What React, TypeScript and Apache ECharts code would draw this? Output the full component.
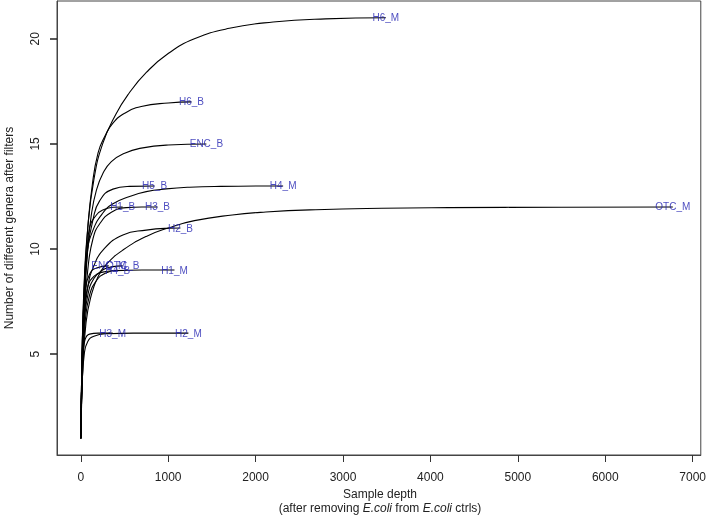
import React, { useEffect, useRef } from "react";
import * as echarts from "echarts";

// Rarefaction curves: [sample depth, number of genera]
const H6_M = [[1,1],[15,5],[40,8.5],[80,11],[150,13.3],[250,15],[400,16.4],[550,17.4],[750,18.4],[1000,19.3],[1300,20.0],[1700,20.5],[2200,20.8],[2800,20.95],[3490,21]];
const H6_B = [[1,1],[15,5],[40,8.3],[80,11],[130,13],[197,14.56],[274,15.35],[368,15.99],[502,16.46],[692,16.78],[1000,16.95],[1266,17]];
const ENC_B = [[1,1],[15,4.5],[40,7.5],[80,10],[120,11.6],[179,12.8],[254,13.6],[350,14.16],[502,14.56],[692,14.8],[1000,14.95],[1437,15]];
const H5_B = [[1,1],[15,4.5],[40,7.5],[80,10],[140,11.4],[217,12.3],[368,12.85],[559,12.98],[844,13]];
const H4_M = [[1,1],[15,4.5],[40,8],[70,9.8],[140,10.9],[250,11.7],[368,12.15],[559,12.5],[749,12.73],[977,12.86],[1243,12.94],[1600,12.98],[2315,13]];
const H1_B = [[1,1],[15,4.5],[40,7.5],[70,9.8],[103,11.06],[179,11.62],[254,11.86],[368,11.99],[479,12]];
const H3_B = [[1,1],[15,4],[40,6.8],[80,9],[140,10.5],[217,11.2],[350,11.75],[521,11.97],[700,12],[878,12]];
const OTC_M = [[1,1],[20,4],[60,6.5],[120,7.8],[200,8.7],[300,9.3],[482,9.95],[749,10.6],[1000,11.0],[1300,11.35],[1733,11.62],[2117,11.76],[2688,11.87],[3444,11.94],[4208,11.97],[5500,11.99],[6773,12]];
const H2_B = [[1,1],[15,4],[40,6.5],[80,8.2],[150,9.2],[254,9.95],[482,10.67],[749,10.9],[1015,10.99],[1140,11]];
const ENC_M = [[1,1],[10,4],[25,6.5],[50,8],[100,8.8],[180,9.1],[320,9.2]];
const OTC_B = [[1,1],[15,4],[40,6.5],[80,7.8],[150,8.6],[250,9.0],[350,9.15],[480,9.2]];
const H4_B = [[1,1],[20,4],[50,6.5],[100,7.8],[180,8.5],[280,8.85],[422,9]];
const H1_M = [[1,1],[15,4.5],[40,7],[80,8.2],[150,8.7],[250,8.9],[400,8.97],[700,9],[1072,9]];
const H3_M = [[1,1],[10,3.5],[25,5],[50,5.7],[100,5.95],[200,6],[365,6]];
const H2_M = [[1,1],[15,3.5],[40,5],[80,5.6],[150,5.85],[300,5.97],[600,6],[1231,6]];

const sampleNames = ["H6_M","H6_B","ENC_B","H5_B","H4_M","H1_B","H3_B","OTC_M","H2_B","ENC_M","OTC_B","H4_B","H1_M","H3_M","H2_M"];
const curves = [H6_M,H6_B,ENC_B,H5_B,H4_M,H1_B,H3_B,OTC_M,H2_B,ENC_M,OTC_B,H4_B,H1_M,H3_M,H2_M];

const xTicks = [0,1000,2000,3000,4000,5000,6000,7000];
const yTicks = [5,10,15,20];

const FONT = "'Liberation Sans', Arial, Helvetica, sans-serif";

export default function App() {
  const ref = useRef<HTMLDivElement>(null);
  useEffect(() => {
    if (!ref.current) return;
    const chart = echarts.init(ref.current, undefined, { renderer: "svg" });
    const lineSeries = curves.map((c, i) => ({
      type: "line",
      name: sampleNames[i],
      data: c,
      showSymbol: false,
      smooth: 0.5,
      lineStyle: { color: "#000", width: 1.1 },
      silent: true,
      z: 2,
    }));
    const labelSeries = {
      type: "scatter",
      symbolSize: 0,
      silent: true,
      z: 5,
      data: curves.map((c, i) => ({ name: sampleNames[i], value: c[c.length - 1] })),
      label: {
        show: true,
        position: "inside",
        formatter: "{b}",
        color: "#2020b0",
        fontSize: 10,
        fontFamily: FONT,
      },
    };
    chart.setOption({
      animation: false,
      grid: {
        left: 57, right: 7, top: 1, bottom: 61,
        show: true, borderColor: "#444", borderWidth: 1,
      },
      xAxis: {
        type: "value",
        min: -272, max: 7093,
        axisLine: { show: true, onZero: false, lineStyle: { color: "#444" } },
        splitLine: { show: false },
        axisTick: { show: true, length: 7, customValues: xTicks, lineStyle: { color: "#333" } },
        axisLabel: { show: true, customValues: xTicks, margin: 16, color: "#222", fontSize: 12, fontFamily: FONT, formatter: (v: number) => String(v) },
      },
      yAxis: {
        type: "value",
        min: 0.2, max: 21.8,
        axisLine: { show: true, onZero: false, lineStyle: { color: "#444" } },
        splitLine: { show: false },
        axisTick: { show: true, length: 7, customValues: yTicks, lineStyle: { color: "#222", width: 1.5 } },
        axisLabel: { show: true, customValues: yTicks, rotate: 90, margin: 16, color: "#222", fontSize: 12, fontFamily: FONT },
      },
      series: [...lineSeries, labelSeries],
      graphic: [
        {
          type: "text",
          x: 380, y: 494,
          style: { text: "Sample depth", fill: "#222", font: `12px ${FONT}`, align: "center", verticalAlign: "middle" },
        },
        {
          type: "text",
          x: 380, y: 508,
          style: {
            text: "(after removing {i|E.coli} from {i|E.coli} ctrls)",
            fill: "#222", font: `12px ${FONT}`, align: "center", verticalAlign: "middle",
            rich: { i: { fontStyle: "italic", fontSize: 12, fontFamily: FONT, fill: "#222" } },
          },
        },
        {
          type: "text",
          x: 9, y: 228, rotation: Math.PI / 2,
          style: { text: "Number of different genera after filters", fill: "#222", font: `12px ${FONT}`, align: "center", verticalAlign: "middle" },
        },
      ],
    });
    return () => chart.dispose();
  }, []);
  return <div ref={ref} style={{ position: "fixed", left: 0, top: 0, width: 709, height: 516 }} />;
}
